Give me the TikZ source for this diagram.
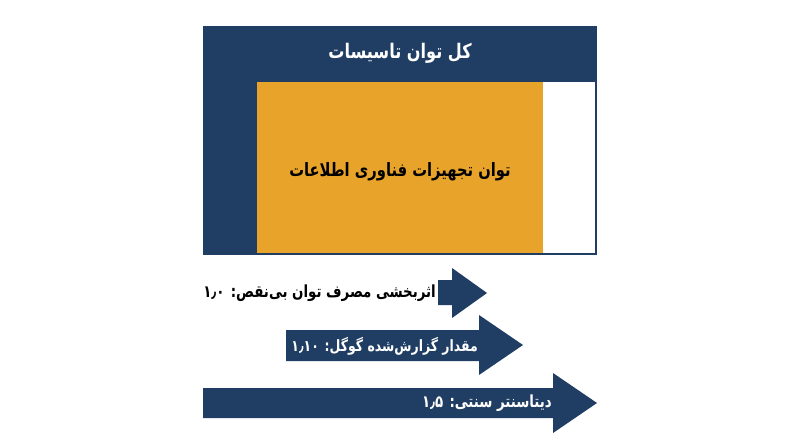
\documentclass[tikz,border=0pt]{standalone}
\usepackage{fontspec}
\TeXXeTstate=1
\newfontfamily\arabicfont[Script=Arabic,FakeStretch=0.8]{DejaVu Sans}
\definecolor{navy}{HTML}{203D63}
\definecolor{gold}{HTML}{E8A42A}
\begin{document}
\begin{tikzpicture}[x=1pt,y=-1pt,
  lbl/.style={inner sep=0pt,font=\arabicfont\bfseries\fontsize{16.7}{20}\selectfont},
  arrowfill/.style={fill=navy}]
\useasboundingbox (0,0) rectangle (800,447);
\fill[white] (0,0) rectangle (800,447);
% outer box
\fill[navy] (203,26) rectangle (597,255);
\fill[white] (543,82) rectangle (595,253);
\fill[gold] (257,82) rectangle (543,253);
\node[lbl,text=white,font=\arabicfont\bfseries\fontsize{20.1}{24}\selectfont] (title) at (400,53) {\beginR کل توان تاسیسات\endR};
\node[lbl,text=black,font=\arabicfont\bfseries\fontsize{18.4}{22}\selectfont] (it) at (400,172) {\beginR توان تجهیزات فناوری اطلاعات\endR};
% arrows
\fill[arrowfill] (438,280) -- (452,280) -- (452,268) -- (487,293) -- (452,318) -- (452,305) -- (438,305) -- cycle;
\fill[arrowfill] (286,330) -- (479,330) -- (479,315) -- (523,345) -- (479,375) -- (479,361) -- (286,361) -- cycle;
\fill[arrowfill] (203,388) -- (553,388) -- (553,373) -- (597,403) -- (553,433) -- (553,418) -- (203,418) -- cycle;
\node[lbl,text=black,anchor=east] (a1) at (436,293) {\beginR اثربخشی مصرف توان بی‌نقص: \beginL ۱٫۰\endL\endR};
\node[lbl,text=white,anchor=east,font=\arabicfont\bfseries\fontsize{15.6}{19}\selectfont] (a2) at (478,346) {\beginR مقدار گزارش‌شده گوگل: \beginL ۱٫۱۰\endL\endR};
\node[lbl,text=white,anchor=east] (a3) at (552,403) {\beginR دیتاسنتر سنتی: \beginL ۱٫۵\endL\endR};
\end{tikzpicture}
\end{document}
